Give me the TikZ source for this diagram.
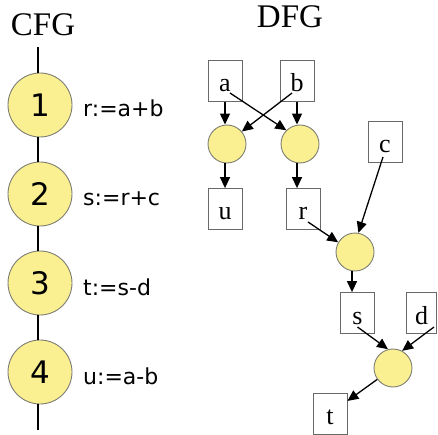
\documentclass[tikz,border=0pt]{standalone}
\usepackage{fontspec}
\setmainfont{Liberation Serif}
\newfontfamily\vsans{DejaVu Sans}
\usetikzlibrary{arrows.meta}
\definecolor{nodeyellow}{RGB}{250,240,145}
\definecolor{nodeedge}{RGB}{125,125,115}
\definecolor{boxedge}{RGB}{105,105,105}
\tikzset{
  cfgnode/.style={circle, minimum size=64pt, inner sep=0pt, fill=nodeyellow, draw=nodeedge, line width=0.9pt, font=\vsans\fontsize{31}{31}\selectfont},
  cfglabel/.style={anchor=base west, inner sep=0pt, font=\vsans\fontsize{22}{22}\selectfont},
  cfgline/.style={line width=1.3pt, black},
  title/.style={anchor=base, inner sep=0pt, font=\fontsize{33}{33}\selectfont},
  opnode/.style={circle, minimum size=38pt, inner sep=0pt, fill=nodeyellow, draw=nodeedge, line width=0.9pt},
  varbox/.style={rectangle, draw=boxedge, line width=0.8pt, minimum width=34pt, minimum height=41pt, inner sep=0pt, text height=22pt, text depth=0pt, font=\fontsize{26}{26}\selectfont},
  arr/.style={line width=1.3pt, black, -{Triangle[length=11pt,width=10pt]}}
}
\begin{document}
\begin{tikzpicture}[x=1pt,y=-1pt]
\useasboundingbox (0,0) rectangle (438,435);
% titles
\node[title] (cfgt) at (43,36) {CFG};
\node[title] (dfgt) at (290,28) {DFG};
% CFG
\coordinate (ctop) at (38,47);
\coordinate (cbot) at (38,430);
\node[cfgnode] (c1) at (40,105) {1};
\node[cfgnode] (c2) at (40,194) {2};
\node[cfgnode] (c3) at (40,283) {3};
\node[cfgnode] (c4) at (40,372) {4};
\node[cfglabel] (l1) at (83,117) {r:=a+b};
\node[cfglabel] (l2) at (83,206) {s:=r+c};
\node[cfglabel] (l3) at (83,295) {t:=s-d};
\node[cfglabel] (l4) at (83,384) {u:=a-b};
\draw[cfgline] (ctop) -- (ctop |- c1.north);
\draw[cfgline] ([xshift=-2]c1.south) -- ([xshift=-2]c2.north);
\draw[cfgline] ([xshift=-2]c2.south) -- ([xshift=-2]c3.north);
\draw[cfgline] ([xshift=-2]c3.south) -- ([xshift=-2]c4.north);
\draw[cfgline] ([xshift=-2]c4.south) -- (cbot);
% DFG
\node[varbox] (a) at (225,81) {a};
\node[varbox] (b) at (297,81) {b};
\node[opnode] (lc) at (227,144) {};
\node[opnode] (rc) at (300,144) {};
\node[varbox] (u) at (225,209) {u};
\node[varbox] (r) at (303,209) {r};
\node[varbox] (c) at (385,142) {c};
\node[opnode] (mc) at (355,252) {};
\node[varbox] (s) at (357.5,313) {s};
\node[varbox, minimum width=30pt] (d) at (421.5,313) {d};
\node[opnode] (bc) at (393,368) {};
\node[varbox] (t) at (330,413.5) {t};
\draw[arr] (a.south) -- (a.south |- lc.north);
\draw[arr] (b.south) -- (b.south |- rc.north);
\draw[arr] ([shift={(5,12)}]a.center) -- (rc.135);
\draw[arr] ([shift={(-5,12)}]b.center) -- (lc.40);
\draw[arr] (u.north |- lc.south) -- (u.north);
\draw[arr] ([xshift=-3]rc.south) -- ([xshift=-3]rc.south |- r.north);
\draw[arr] ([shift={(5,13)}]r.center) -- (mc.150);
\draw[arr] ([shift={(-2,15)}]c.center) -- (mc.80);
\draw[arr] ([xshift=-3]mc.south) -- ([xshift=-3]mc.south |- s.north);
\draw[arr] ([shift={(0,14)}]s.center) -- (bc.105);
\draw[arr] ([shift={(12.5,14)}]d.center) -- (bc.62);
\draw[arr] (bc) -- (t);
\end{tikzpicture}
\end{document}
